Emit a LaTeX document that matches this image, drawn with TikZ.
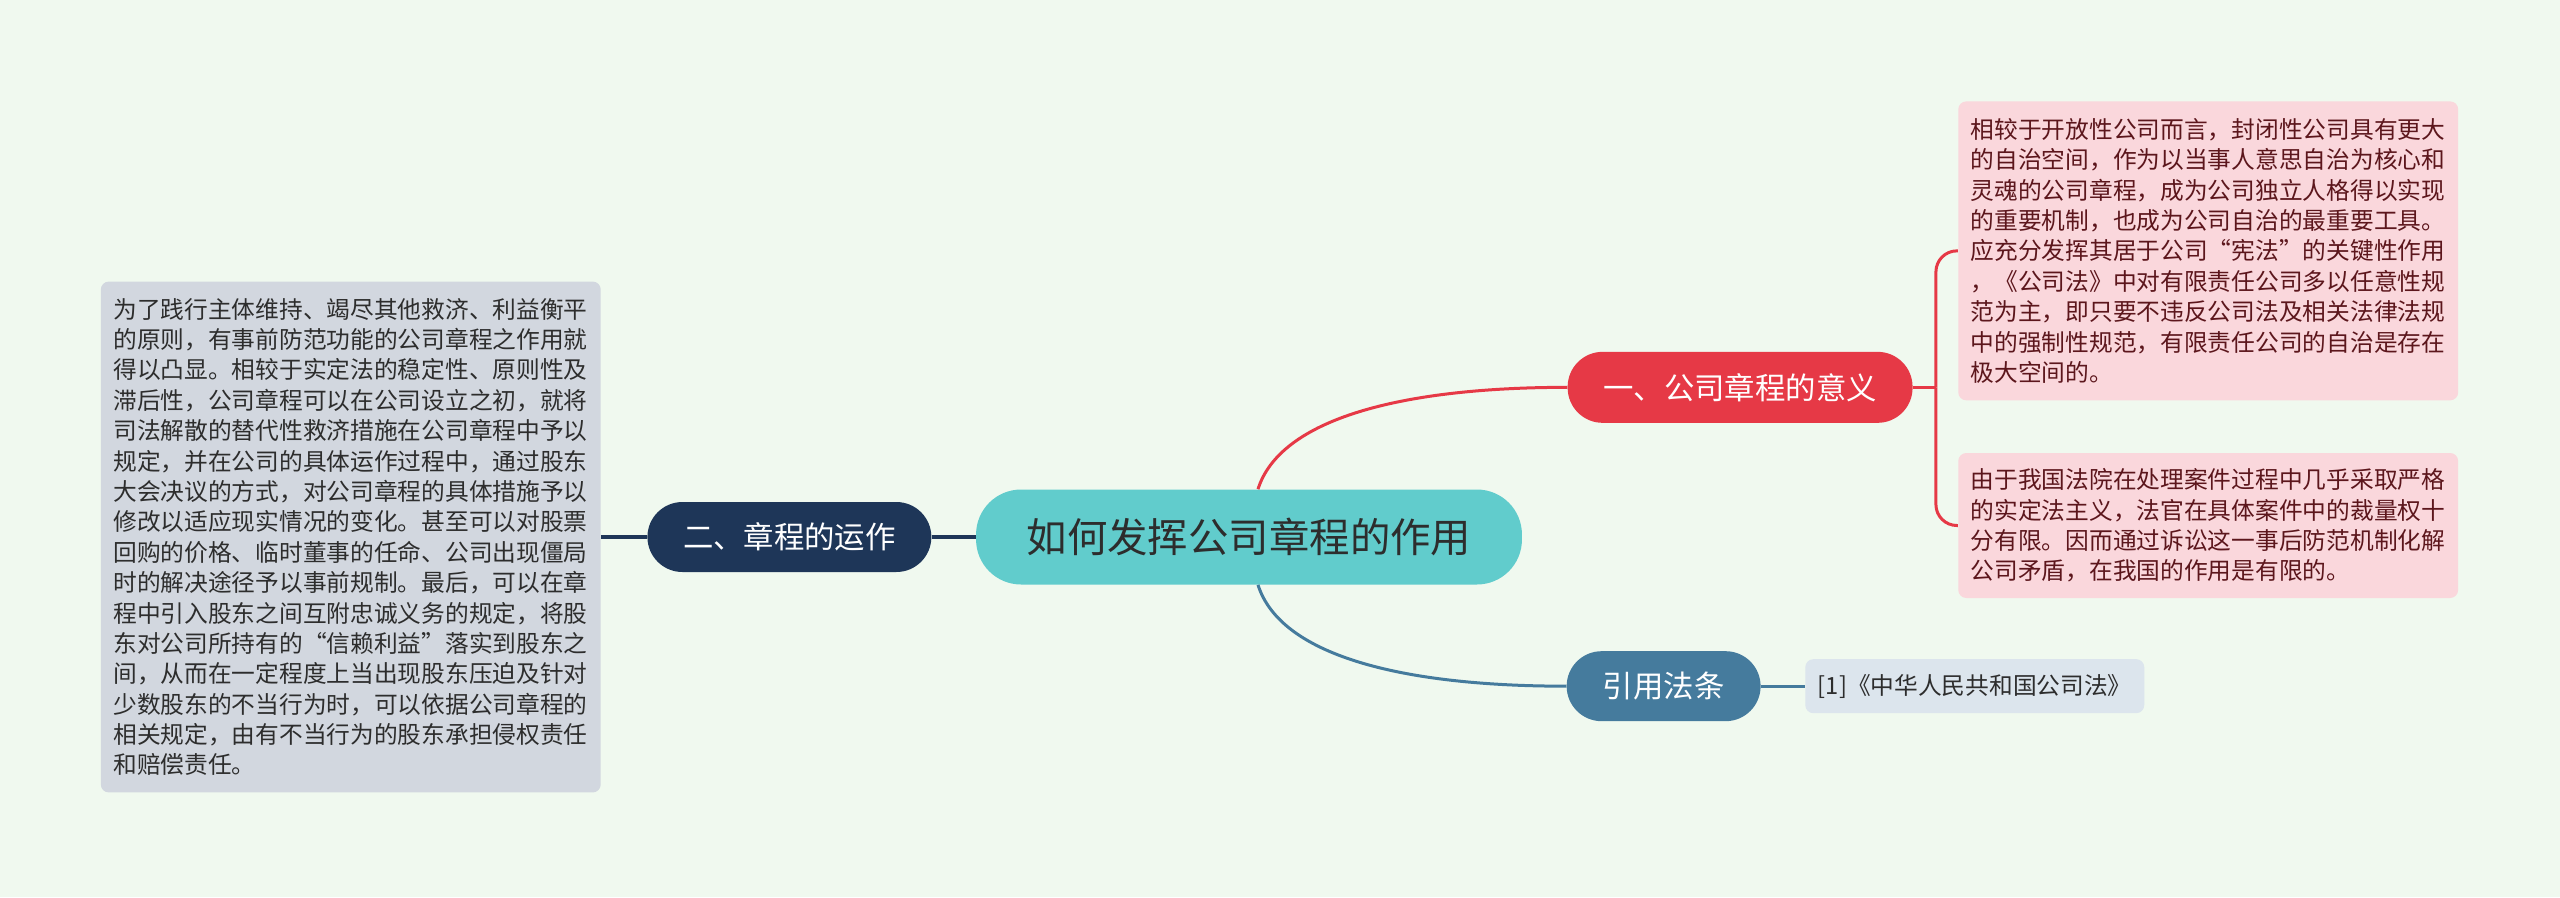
\documentclass[tikz,border=0pt]{standalone}
\usepackage{fontspec}
\setmainfont{Noto Sans CJK SC}
\usepackage{xcolor}
\usepackage{tikz}
\usetikzlibrary{positioning, calc}

\definecolor{bgmint}{RGB}{240,249,239}
\definecolor{rootteal}{RGB}{97,204,204}
\definecolor{opnavy}{RGB}{30,54,88}
\definecolor{opgray}{RGB}{210,215,223}
\definecolor{senred}{RGB}{230,57,70}
\definecolor{senpink}{RGB}{250,215,220}
\definecolor{sentext}{RGB}{92,22,28}
\definecolor{lawblue}{RGB}{69,123,157}
\definecolor{lawgray}{RGB}{220,229,237}
\definecolor{darktext}{RGB}{45,45,45}

\begin{document}
\begin{tikzpicture}[
    x=0.02cm, y=-0.02cm,
    root/.style={rectangle, rounded corners=0.9cm, fill=rootteal, text=darktext, minimum width=10.92cm, minimum height=1.9cm, font=\fontsize{23}{26}\selectfont},
    topic/.style={rectangle, rounded corners=0.7cm, minimum height=1.4cm, text=white, font=\fontsize{17.3}{20}\selectfont},
    leaf/.style={rectangle, rounded corners=0.16cm, text width=9.5cm, align=left, inner xsep=0.25cm, inner ysep=0pt, font=\fontsize{13.5}{17.3}\selectfont},
    link/.style={line width=0.06cm},
]
    % canvas
    \useasboundingbox (0,0) rectangle (2560,897);
    \fill[bgmint] (0,0) rectangle (2560,897);

    % Central topic
    \node[root] (root) at (1249,537) {如何发挥公司章程的作用};

    % Left branch
    \node[topic, fill=opnavy, minimum width=5.68cm, left=0.88cm of root] (op) {二、章程的运作};
    \node[leaf, fill=opgray, text=darktext, minimum height=10.22cm, left=0.92cm of op] (opnote) {为了践行主体维持、竭尽其他救济、利益衡平\\的原则，有事前防范功能的公司章程之作用就\\得以凸显。相较于实定法的稳定性、原则性及\\滞后性，公司章程可以在公司设立之初，就将\\司法解散的替代性救济措施在公司章程中予以\\规定，并在公司的具体运作过程中，通过股东\\大会决议的方式，对公司章程的具体措施予以\\修改以适应现实情况的变化。甚至可以对股票\\回购的价格、临时董事的任命、公司出现僵局\\时的解决途径予以事前规制。最后，可以在章\\程中引入股东之间互附忠诚义务的规定，将股\\东对公司所持有的“信赖利益”落实到股东之\\间，从而在一定程度上当出现股东压迫及针对\\少数股东的不当行为时，可以依据公司章程的\\相关规定，由有不当行为的股东承担侵权责任\\和赔偿责任。};

    % Upper right branch
    \node[topic, fill=senred, minimum width=6.9cm, minimum height=1.42cm, above right=1.32cm and 0.9cm of root] (meaning) {一、公司章程的意义};
    \node[leaf, fill=senpink, text=sentext, minimum height=5.98cm, right=0.9cm of meaning, yshift=2.73cm] (sense1) {相较于开放性公司而言，封闭性公司具有更大\\的自治空间，作为以当事人意思自治为核心和\\灵魂的公司章程，成为公司独立人格得以实现\\的重要机制，也成为公司自治的最重要工具。\\应充分发挥其居于公司“宪法”的关键性作用\\，《公司法》中对有限责任公司多以任意性规\\范为主，即只要不违反公司法及相关法律法规\\中的强制性规范，有限责任公司的自治是存在\\极大空间的。};
    \node[leaf, fill=senpink, text=sentext, minimum height=2.9cm, below=1.04cm of sense1] (sense2) {由于我国法院在处理案件过程中几乎采取严格\\的实定法主义，法官在具体案件中的裁量权十\\分有限。因而通过诉讼这一事后防范机制化解\\公司矛盾，在我国的作用是有限的。};

    % Lower right branch
    \node[topic, fill=lawblue, minimum width=3.88cm, below right=1.32cm and 0.88cm of root] (law) {引用法条};
    \node[leaf, fill=lawgray, text=darktext, text width=, minimum width=6.78cm, minimum height=1.08cm, inner xsep=0.2cm, right=0.88cm of law] (lawnote) {[1]《中华人民共和国公司法》};

    % Connectors
    \draw[link, opnavy, line width=0.075cm] (root) -- (op);
    \draw[link, opnavy, line width=0.075cm] (op) -- (opnote);
    \draw[link, senred] ($(root.north)+(0.18cm,0)$) .. controls +(0.44cm,1.4cm) and +(-3.34cm,0) .. (meaning.west);
    \draw[link, senred] (meaning.east) -- ++(0.46cm,0) coordinate (fork);
    \draw[link, senred, rounded corners=0.42cm] (fork) |- (sense1.west);
    \draw[link, senred, rounded corners=0.42cm] (fork) |- (sense2.west);
    \draw[link, lawblue] ($(root.south)+(0.18cm,0)$) .. controls +(0.44cm,-1.4cm) and +(-3.34cm,0) .. (law.west);
    \draw[link, lawblue] (law) -- (lawnote);
\end{tikzpicture}
\end{document}
